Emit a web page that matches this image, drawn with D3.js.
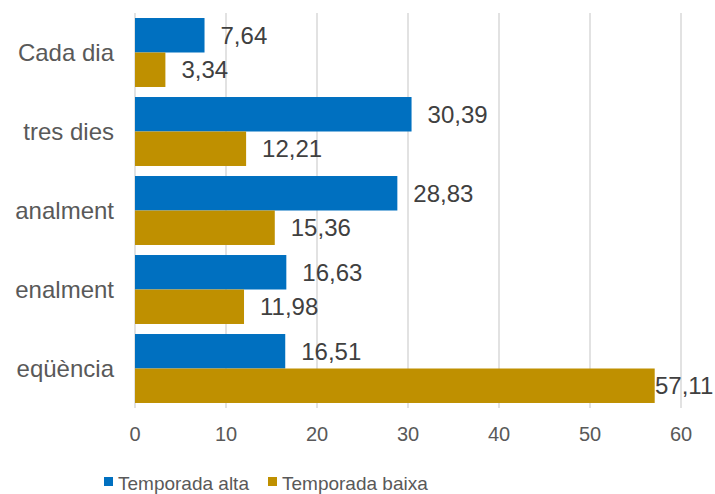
<!DOCTYPE html>
<html>
<head>
<meta charset="utf-8">
<script src="https://cdn.jsdelivr.net/npm/d3@7"></script>
<style>
  body { margin: 0; background: #fff; }
  svg { display: block; font-family: "Liberation Sans", Arial, sans-serif; }
</style>
</head>
<body>
<svg width="715" height="494"></svg>
<script>
// data
const categories = ["Cada dia", "tres dies", "analment", "enalment", "eqüència"]
const seriesNames = ["Temporada alta", "Temporada baixa"]
const alta = [7.64, 30.39, 28.83, 16.63, 16.51]
const baixa = [3.34, 12.21, 15.36, 11.98, 57.11]
const xTicks = [0, 10, 20, 30, 40, 50, 60]
const colors = ["#0070C0", "#BF9000"]

const width = 715
const height = 494
const plot = {left: 135, right: 681, top: 13, bottom: 408}

const svg = d3.select("svg")

const x = d3.scaleLinear().domain([0, 60]).range([plot.left, plot.right])
const y = d3.scaleBand().domain(categories).range([plot.top, plot.bottom])
    .paddingInner(0.127).paddingOuter(0.0635)
const ySub = d3.scaleBand().domain(seriesNames).range([0, y.bandwidth()])

// gridlines
svg.append("g")
    .selectAll("line")
    .data(xTicks)
    .join("line")
    .attr("x1", d => x(d)).attr("x2", d => x(d))
    .attr("y1", plot.top).attr("y2", plot.bottom)
    .attr("stroke", "#d9d9d9")
    .attr("stroke-width", 1.5)

// x tick labels
svg.append("g")
    .selectAll("text")
    .data(xTicks)
    .join("text")
    .attr("x", d => x(d))
    .attr("y", 441)
    .attr("text-anchor", "middle")
    .attr("font-size", 20)
    .attr("fill", "#595959")
    .text(d => d)

// category labels
svg.append("g")
    .selectAll("text")
    .data(categories)
    .join("text")
    .attr("x", 114)
    .attr("y", d => y(d) + y.bandwidth() / 2)
    .attr("dy", "0.36em")
    .attr("text-anchor", "end")
    .attr("font-size", 24)
    .attr("fill", "#595959")
    .text(d => d)

const fmt = v => v.toFixed(2).replace(".", ",")

const series = [alta, baixa]
series.forEach((vals, si) => {
    const rows = categories.map((c, i) => ({cat: c, v: vals[i]}))
    svg.append("g")
        .selectAll("rect")
        .data(rows)
        .join("rect")
        .attr("x", x(0))
        .attr("y", d => y(d.cat) + ySub(seriesNames[si]))
        .attr("width", d => x(d.v) - x(0))
        .attr("height", ySub.bandwidth())
        .attr("fill", colors[si])

    svg.append("g")
        .selectAll("text")
        .data(rows)
        .join("text")
        .attr("x", d => Math.min(x(d.v) + 16, width - 60))
        .attr("y", d => y(d.cat) + ySub(seriesNames[si]) + ySub.bandwidth() / 2)
        .attr("dy", "0.36em")
        .attr("font-size", 24)
        .attr("fill", "#404040")
        .text(d => fmt(d.v))
})

// legend
const legendX = [104, 268]
const lg = svg.append("g")
seriesNames.forEach((name, i) => {
    lg.append("rect")
        .attr("x", legendX[i]).attr("y", 477)
        .attr("width", 9).attr("height", 9)
        .attr("fill", colors[i])
    lg.append("text")
        .attr("x", legendX[i] + 14).attr("y", 490)
        .attr("font-size", 19)
        .attr("fill", "#595959")
        .text(name)
})
</script>
</body>
</html>
